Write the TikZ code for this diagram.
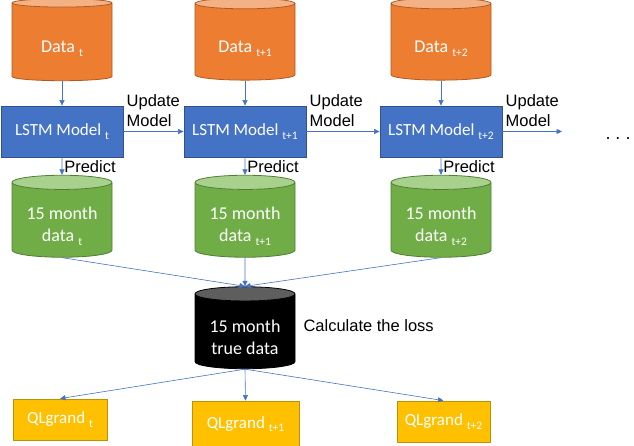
\documentclass[tikz,border=0pt]{standalone}
\usepackage{fontspec}
\setmainfont{Carlito}
\newfontfamily\labelfont{Liberation Sans}
\usetikzlibrary{arrows.meta,positioning,shapes.geometric}
\definecolor{offorange}{HTML}{ED7D31}
\definecolor{offorangetop}{HTML}{F4B183}
\definecolor{offorangeline}{HTML}{AE5A21}
\definecolor{offblue}{HTML}{4472C4}
\definecolor{offblueline}{HTML}{2F528F}
\definecolor{offgreen}{HTML}{70AD47}
\definecolor{offgreentop}{HTML}{A9D18E}
\definecolor{offgreenline}{HTML}{507E32}
\definecolor{offgold}{HTML}{FFC000}
\definecolor{offgoldline}{HTML}{BF9000}
\definecolor{offgray}{HTML}{5E5E5E}
\newcommand\idx[1]{\raisebox{-0.45ex}{\fontsize{11.5}{12}\selectfont #1}}
% extra height on the first line pushes cylinder text into the body
\newcommand\bodystrut{\rule{0pt}{25pt}}

\begin{document}
\begin{tikzpicture}[x=1pt, y=-1pt,
  every node/.style={font=\fontsize{17}{20}\selectfont},
  store/.style={shape=cylinder, shape border rotate=90, aspect=0.2,
    minimum width=100pt, minimum height=82pt, cylinder uses custom fill,
    line width=0.8pt, text=white, align=center, inner sep=0pt,
    font=\fontsize{18}{22}\selectfont},
  datastore/.style={store, draw=offorangeline,
    cylinder body fill=offorange, cylinder end fill=offorangetop},
  predstore/.style={store, draw=offgreenline,
    cylinder body fill=offgreen, cylinder end fill=offgreentop},
  truestore/.style={store, draw=black,
    cylinder body fill=black, cylinder end fill=offgray},
  model/.style={draw=offblueline, fill=offblue, line width=0.8pt, text=white,
    minimum width=122pt, minimum height=51pt, inner sep=0pt},
  loss/.style={draw=offgoldline, fill=offgold, line width=0.8pt, text=white,
    minimum height=41pt, inner sep=0pt},
  lbl/.style={font=\labelfont\fontsize{16.5}{20}\selectfont, text=black},
  update/.style={lbl, pos=0, anchor=south west, align=left, inner sep=0pt,
    xshift=3pt, yshift=5pt},
  flow/.style={draw=offblue, line width=0.6pt,
    -{Triangle[length=5.5pt, width=5pt]}}]

  \useasboundingbox (0,0) rectangle (634,446);

  % ---- Data stores ----
  \node[datastore] (data0) at (62,42)  {\bodystrut Data \idx{t}};
  \node[datastore] (data1) at (245,42) {\bodystrut Data \idx{t+1}};
  \node[datastore] (data2) at (441,42) {\bodystrut Data \idx{t+2}};

  % ---- LSTM models ----
  \node[model] (lstm0) at (62,131.5)  {LSTM Model \idx{t}};
  \node[model] (lstm1) at (245,131.5) {LSTM Model \idx{t+1}};
  \node[model] (lstm2) at (441,131.5) {LSTM Model \idx{t+2}};
  \coordinate (next) at (562,131.5);
  \node[lbl, font=\labelfont\fontsize{18}{20}\selectfont] (dots) at (618,139) {.~.~.};

  % ---- Predictions ----
  \node[predstore] (pred0) at (62,220)  {\bodystrut 15 month\\data \idx{t}};
  \node[predstore] (pred1) at (245,220) {\bodystrut 15 month\\data \idx{t+1}};
  \node[predstore] (pred2) at (441,220) {\bodystrut 15 month\\data \idx{t+2}};

  % ---- True data ----
  \node[truestore] (truth) at (245,331.5) {\bodystrut 15 month\\true data};
  \node[lbl, anchor=west] (calc) at (300,326) {Calculate the loss};

  % ---- Losses ----
  \node[loss, minimum width=94pt]  (ql0) at (60,419.5)  {QLgrand \idx{t}};
  \node[loss, minimum width=107pt, minimum height=46pt] (ql1) at (245.5,424) {QLgrand \idx{t+1}};
  \node[loss, minimum width=93pt]  (ql2) at (443.5,421.5) {QLgrand \idx{t+2}};

  % ---- Connectors ----
  \foreach \i in {0,1,2} {
    \draw[flow] (data\i) -- (lstm\i);
    \draw[flow] (lstm\i) -- node[lbl, right, inner sep=2pt] {Predict} (pred\i);
    \draw[flow] (pred\i.south) -- (truth.north);
    \draw[flow] (truth.south) -- (ql\i.north);
  }
  \draw[flow] (lstm0) -- node[update] {Update\\Model} (lstm1);
  \draw[flow] (lstm1) -- node[update] {Update\\Model} (lstm2);
  \draw[flow] (lstm2) -- node[update] {Update\\Model} (next);

\end{tikzpicture}
\end{document}
